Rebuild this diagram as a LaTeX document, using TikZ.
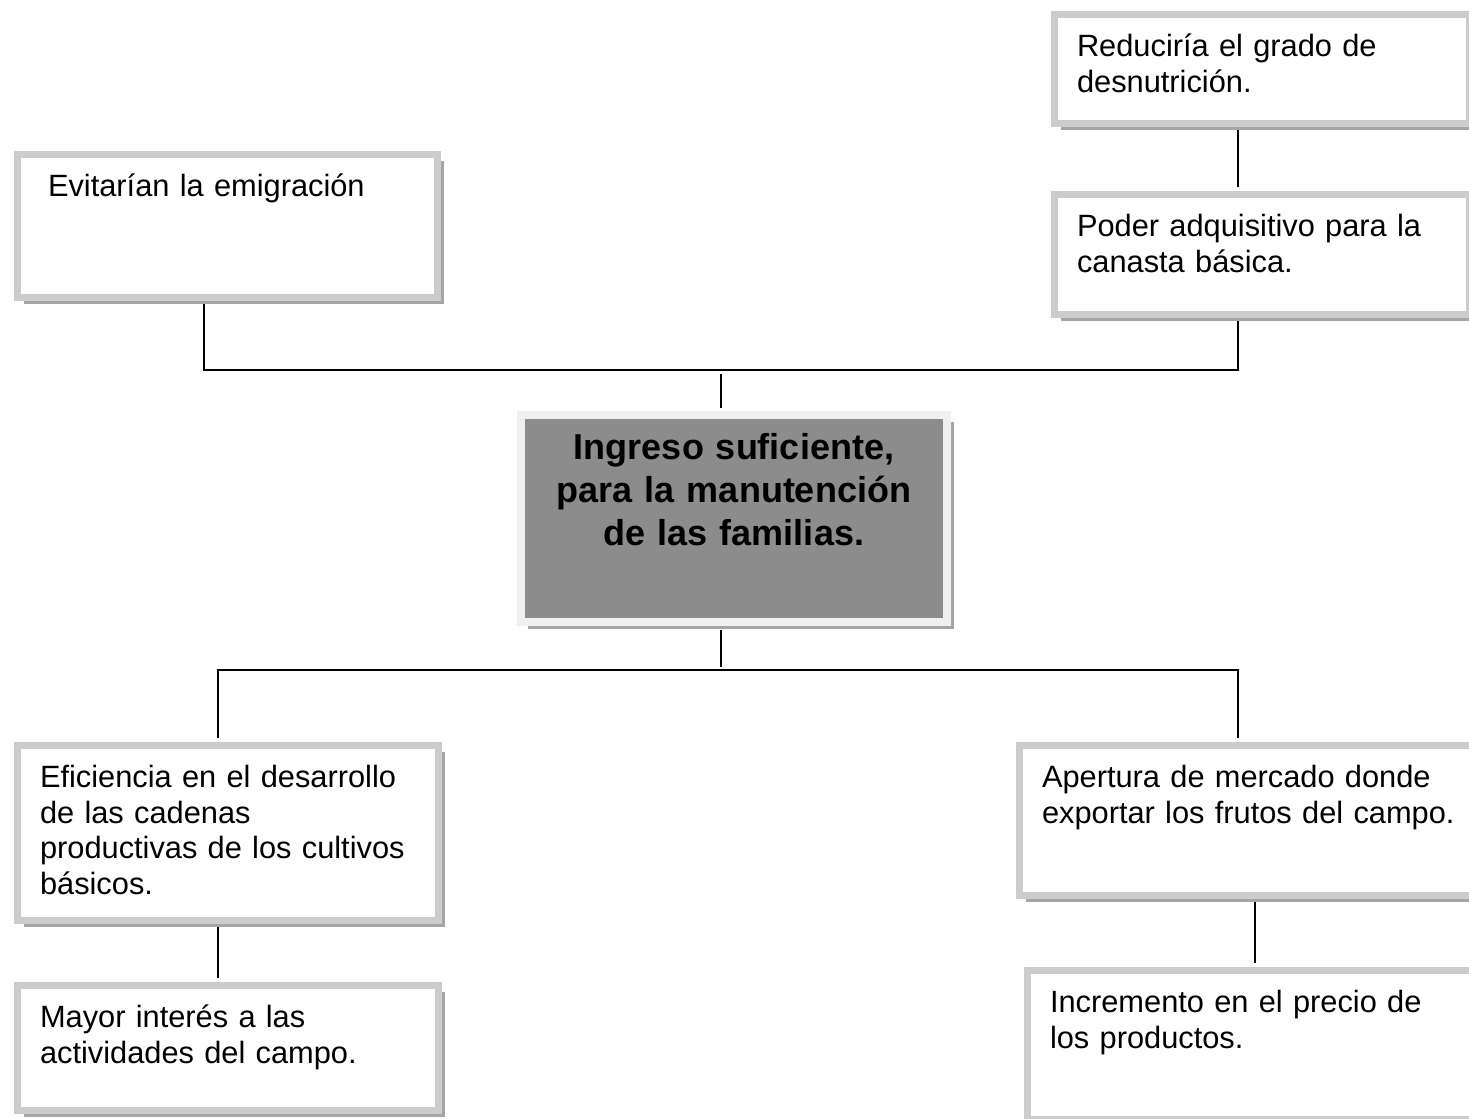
\documentclass[tikz,border=0pt]{standalone}
\usepackage{fontspec}
\setmainfont{Liberation Sans}
\usepackage{tikz}
\usepackage{xcolor}
\usetikzlibrary{shadows}
\definecolor{marco}{RGB}{204,204,204}
\definecolor{marcoclaro}{RGB}{240,240,240}
\definecolor{relleno}{RGB}{140,140,140}
\definecolor{sombra}{RGB}{165,165,165}

\begin{document}
\begin{tikzpicture}[x=0.5pt, y=-0.5pt,
    caja/.style={draw=marco, line width=3.5pt, fill=white, anchor=north west, align=left,
        inner xsep=11.5pt, inner ysep=8pt, text height=13.25pt,
        font=\fontsize{15.4}{17.8}\selectfont,
        drop shadow={shadow xshift=3.5pt, shadow yshift=-3.5pt, fill=sombra, opacity=1}},
    central/.style={caja, draw=marcoclaro, line width=4pt, fill=relleno, align=center,
        text height=14pt, font=\bfseries\fontsize{18}{21.5}\selectfont},
    linea/.style={line width=1pt, shorten <=1.75pt, shorten >=1.75pt}]
    \useasboundingbox (0,0) rectangle (1469,1119);

    % cajas
    \node[caja, text width=187pt, text depth=42.25pt] (evitar) at (13.5,150.5) {\hspace*{4pt}Evitarían la emigración};
    \node[caja, text width=184.5pt, text depth=25.25pt] (reducir) at (1050.5,10.5) {Reduciría el grado de\\desnutrición.};
    \node[caja, text width=184.5pt, text depth=30.75pt] (poder) at (1050.5,190.5) {Poder adquisitivo para la\\canasta básica.};
    \node[central, text width=190pt, text depth=73.5pt] (ingreso) at (517,411) {Ingreso suficiente,\\para la manutención\\de las familias.};
    \node[caja, text width=187.5pt, text depth=58.25pt] (eficiencia) at (13.5,741.5) {Eficiencia en el desarrollo\\de las cadenas\\productivas de los cultivos\\básicos.};
    \node[caja, text width=187.5pt, text depth=33.25pt] (mayor) at (13.5,981.5) {Mayor interés a las\\actividades del campo.};
    \node[caja, text width=212pt, text depth=45.75pt] (apertura) at (1015.5,741.5) {Apertura de mercado donde\\exportar los frutos del campo.};
    \node[caja, text width=201.25pt, text depth=45.25pt] (incremento) at (1023.5,966.5) {Incremento en el precio de\\los productos.};

    % uniones
    \coordinate (ta) at (204,370);
    \coordinate (tb) at (1238,370);
    \coordinate (arriba) at (721,370);
    \coordinate (ba) at (218,670);
    \coordinate (bb) at (1238,670);
    \coordinate (abajo) at (721,670);
    \coordinate (dr) at (1255,930);

    \draw[linea] (evitar.south -| ta) -- (ta) -- (tb) -- (poder.south -| tb);
    \draw[linea] (reducir.south -| tb) -- (poder.north -| tb);
    \draw[linea] (arriba) -- (ingreso.north -| arriba);
    \draw[linea] (ingreso.south -| abajo) -- (abajo);
    \draw[linea] (eficiencia.north -| ba) -- (ba) -- (bb) -- (apertura.north -| bb);
    \draw[linea] (eficiencia.south -| ba) -- (mayor.north -| ba);
    \draw[linea] (apertura.south -| dr) -- (incremento.north -| dr);
\end{tikzpicture}
\end{document}
